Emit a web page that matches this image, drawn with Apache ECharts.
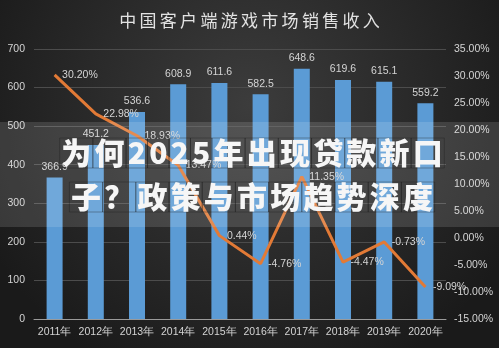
<!DOCTYPE html>
<html><head><meta charset="utf-8">
<script src="https://cdn.jsdelivr.net/npm/echarts@6/dist/echarts.min.js"></script>
<style>html,body{margin:0;padding:0;background:#2a2a2a}#c{width:499px;height:348px}</style>
</head><body><div id="c"></div>
<script>
const categories = ['2011年','2012年','2013年','2014年','2015年','2016年','2017年','2018年','2019年','2020年'];
const revenue = [366.9, 451.2, 536.6, 608.9, 611.6, 582.5, 648.6, 619.6, 615.1, 559.2];
const growth = [30.20, 22.98, 18.93, 13.47, 0.44, -4.76, 11.35, -4.47, -0.73, -9.09];
const titleText = '中国客户端游戏市场销售收入';
const overlayLine1 = '为何2025年出现贷款新口';
const overlayLine2 = '子？政策与市场趋势深度';

function spaced(str, style) {
  return str.split('').map(c => '{' + style + '|' + c + '}').join('');
}
const numFont = '"Liberation Sans", Arial, sans-serif';
const cjkFont = '"Noto Sans CJK SC", sans-serif';
const labelColor = '#d4d4d4';

const chart = echarts.init(document.getElementById('c'));
chart.setOption({
  backgroundColor: {
    type: 'radial', x: 0.5, y: 0.3, r: 0.85,
    colorStops: [{offset: 0, color: '#3c3c3c'}, {offset: 1, color: '#1a1a1a'}]
  },
  animation: false,
  grid: {left: 34, right: 53, top: 49, bottom: 29, containLabel: false},
  xAxis: {
    type: 'category', data: categories,
    axisLine: {lineStyle: {color: '#9a9a9a', width: 1}},
    axisTick: {show: false},
    axisLabel: {color: labelColor, fontSize: 10.5, fontFamily: numFont, margin: 8, interval: 0}
  },
  yAxis: [{
    type: 'value', min: 0, max: 700, interval: 100,
    axisLine: {show: false}, axisTick: {show: false},
    splitLine: {lineStyle: {color: '#4c4c4c', width: 1}},
    axisLabel: {color: labelColor, fontSize: 10.5, fontFamily: numFont, margin: 9}
  }, {
    type: 'value', min: -15, max: 35, interval: 5,
    axisLine: {show: false}, axisTick: {show: false}, splitLine: {show: false},
    axisLabel: {color: labelColor, fontSize: 10.5, fontFamily: numFont, margin: 8,
      formatter: v => v.toFixed(2) + '%'}
  }],
  series: [{
    type: 'bar', data: revenue, barWidth: 16,
    itemStyle: {color: '#5b9bd5'},
    label: {show: true, position: 'top', distance: 5, color: labelColor, fontSize: 10.5, fontFamily: numFont}
  }, {
    type: 'line', yAxisIndex: 1, data: growth, symbol: 'circle', symbolSize: 1, showSymbol: true,
    itemStyle: {color: 'rgba(0,0,0,0)'},
    lineStyle: {color: '#e27a36', width: 3},
    label: {show: true, position: 'right', distance: 7, color: labelColor, fontSize: 10.5, fontFamily: numFont,
      formatter: p => p.value.toFixed(2) + '%'}
  }],
  graphic: [{
    type: 'text', left: 'center', top: 12, z: 50,
    style: {
      text: spaced(titleText, 't'),
      rich: {t: {fontSize: 17, fontFamily: cjkFont, fill: '#e2e2e2', padding: [0, 1.65]}}
    }
  }, {
    type: 'rect', z: 90, shape: {x: 0, y: 122, width: 499, height: 105},
    style: {fill: 'rgba(255,255,255,0.13)'}
  }, {
    type: 'text', x: 252, y: 131, z: 100,
    style: {
      text: spaced(overlayLine1, 'o') + '\n' + spaced(overlayLine2, 'o'),
      align: 'center', verticalAlign: 'top',
      rich: {o: {fontSize: 30, fontWeight: 900, fontFamily: cjkFont, fill: '#f6f6f6',
        lineHeight: 44, padding: [0, 1.6],
        textBorderColor: 'rgba(30,30,30,0.35)', textBorderWidth: 1}}
    }
  }]
});
</script></body></html>
